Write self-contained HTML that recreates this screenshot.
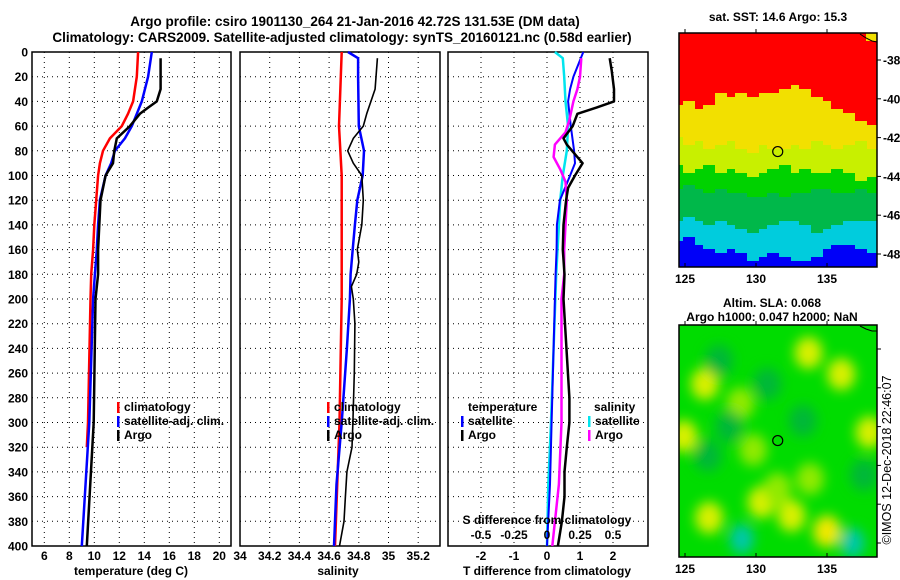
<!DOCTYPE html>
<html><head><meta charset="utf-8"><style>
body{margin:0;background:#fff}
svg{display:block;font-family:"Liberation Sans",sans-serif;font-weight:bold}
</style></head><body>
<svg id="c" width="900" height="580" viewBox="0 0 900 580">
<defs><filter id="bl" x="-50%" y="-50%" width="200%" height="200%"><feGaussianBlur stdDeviation="6"/></filter>
<clipPath id="m2c"><rect x="679" y="325" width="198" height="232"/></clipPath></defs>
<text x="355" y="26" font-size="13.5" text-anchor="middle">Argo profile: csiro 1901130_264 21-Jan-2016 42.72S 131.53E (DM data)</text>
<text x="342" y="42" font-size="13.5" text-anchor="middle">Climatology: CARS2009. Satellite-adjusted climatology: synTS_20160121.nc (0.58d earlier)</text>
<g id="g"></g>
</svg>
<script>
// ---- data ----
const depthTicks=[0,20,40,60,80,100,120,140,160,180,200,220,240,260,280,300,320,340,360,380,400];
const tTicks=[6,8,10,12,14,16,18,20,22];
const tTickLabels=['6','8','10','12','14','16','18','20',''];
const sTicks=[34,34.2,34.4,34.6,34.8,35,35.2];
const dTicks=[-2,-1,0,1,2];
const dsTicks=[-0.5,-0.25,0,0.25,0.5];
const dsTickLabels=['-0.5','-0.25','0','0.25','0.5'];
const climT_depth=[0,20,40,50,60,70,80,90,100,120,140,160,180,200,300,320];
const climT=[13.5,13.4,13.1,12.7,12.2,11.25,10.7,10.45,10.3,10.15,10,9.9,9.75,9.7,9.5,9.4];
const satT_depth=[0,20,40,50,60,70,80,90,100,120,140,160,180,200,300,400];
const satT=[14.6,14.3,13.8,13.4,13.0,12.45,11.65,11.35,10.9,10.45,10.3,10.2,10.05,9.9,9.6,9.0];
const argoT_depth=[5,30,40,45,50,60,70,80,90,100,120,140,160,180,200,300,400];
const argoT=[15.3,15.3,15.0,14.3,13.65,12.85,11.8,11.6,11.5,10.9,10.5,10.4,10.3,10.3,10.1,9.95,9.4];
const climS_depth=[0,60,100,200,300,400];
const climS=[34.685,34.667,34.685,34.685,34.67,34.64];
const satS_depth=[0,5,20,60,80,100,120,140,160,180,200,240,300,350,400];
const satS=[34.727,34.795,34.795,34.80,34.835,34.826,34.79,34.774,34.759,34.745,34.74,34.72,34.685,34.65,34.633];
const argoS_depth=[5,30,50,60,70,80,90,100,120,140,160,170,180,190,200,220,260,300,320,340,360,380,400];
const argoS=[34.925,34.91,34.853,34.83,34.763,34.725,34.763,34.82,34.83,34.82,34.79,34.80,34.786,34.75,34.763,34.774,34.77,34.76,34.754,34.72,34.71,34.70,34.67];
const dSsat_depth=[0,5,20,40,60,80,100,120,140,180,300,350,400];
const dSsat=[0.06,0.12,0.13,0.14,0.16,0.15,0.12,0.10,0.09,0.07,0.03,0.01,0.0];
const dSargo_depth=[5,20,30,40,55,65,75,85,95,105,120,140,160,180,200,300,350,400];
const dSargo=[0.26,0.25,0.23,0.2,0.17,0.14,0.06,0.05,0.1,0.14,0.15,0.14,0.13,0.13,0.11,0.11,0.09,0.04];
const dTsat_depth=[0,10,20,30,40,60,80,90,100,120,140,160,180,200,300,350,400];
const dTsat=[1.1,0.95,0.8,0.7,0.64,0.72,0.82,0.85,0.7,0.39,0.3,0.29,0.26,0.24,0.14,0.09,0.0];
const dTargo_depth=[5,15,30,40,45,50,60,70,75,90,100,110,120,140,160,180,200,280,300,320,340,360,380,400];
const dTargo=[1.9,1.96,2.03,2.03,1.5,0.92,0.78,0.5,0.6,1.08,0.85,0.64,0.58,0.5,0.48,0.53,0.5,0.68,0.68,0.6,0.53,0.53,0.45,0.33];
// SST map band boundaries (latitude) sampled at longitudes
const sstLons=[124.5,125.3,126,126.8,127.5,128.3,129,129.8,130.5,131.3,132,132.8,133.5,134.3,135,135.8,136.5,137.3,138.5];
const redYellow=[-40.3,-40.1,-40.6,-40.4,-39.8,-40.0,-39.6,-39.9,-39.6,-39.8,-39.5,-39.3,-39.5,-39.9,-40.2,-40.6,-40.8,-41.1,-41.4];
const yellowLime=[-42.0,-42.3,-42.2,-42.5,-42.4,-42.2,-42.5,-42.7,-42.4,-42.6,-42.5,-42.3,-42.5,-42.2,-42.4,-42.6,-42.3,-42.1,-42.6];
const limeGreen=[-43.5,-43.8,-43.7,-43.5,-43.9,-43.7,-43.9,-44.1,-43.8,-43.6,-43.5,-43.8,-43.7,-43.9,-43.9,-43.6,-43.9,-44.2,-44.1];
const greenTeal=[-44.7,-44.5,-44.6,-44.8,-44.6,-44.9,-44.8,-45.1,-45.0,-44.8,-45.0,-44.9,-44.8,-44.6,-44.7,-44.9,-44.8,-44.6,-44.9];
const tealCyan=[-46.2,-46.0,-46.3,-46.5,-46.4,-46.6,-46.7,-46.9,-46.8,-46.5,-46.3,-46.4,-46.6,-46.9,-46.8,-46.5,-46.4,-46.2,-46.2];
const cyanBlue=[-47.3,-47.1,-47.5,-47.7,-48.0,-47.8,-47.9,-48.3,-48.2,-48.0,-48.2,-48.4,-48.4,-48.1,-47.8,-47.5,-47.6,-47.7,-48.0];
const sstColors=['#ff0000','#f2e000','#c8f000','#00d200','#00b84a','#00c8b0','#00ccdd','#0000f8'];
// SLA anomaly blobs: lon, lat, type
const slaLon=[126.4,133.7,136.0,135.0,130.4,126.7,138.0,124.9,128.9,126.6,130.8,133.3,137.6,128.1,127.4,129.0,136.8,131.5,133.8,132.5,129.8];
const slaLat=[-39.8,-38.2,-39.3,-47.4,-45.9,-46.7,-42.3,-42.5,-40.8,-43.5,-39.8,-41.7,-44.5,-42.0,-38.6,-47.8,-48.0,-45.2,-44.7,-46.6,-43.2];
const slaType=[1,1,1,2,1,1,1,1,0,3,3,3,3,3,3,4,4,0,0,1,0];
const slaColors=['#90ea00','#d8f000','#f0e800','#00b838','#00c8a8'];

const NS='http://www.w3.org/2000/svg';
const G=document.getElementById('g');
function el(tag,at,txt,parent){const e=document.createElementNS(NS,tag);for(const k in at)e.setAttribute(k,at[k]);if(txt!==undefined)e.textContent=txt;(parent||G).appendChild(e);return e;}
const yD=d=>52+d*1.235;
function panel(x0,x1,xs,grid,name){
  const grp=el('g',{});
  
  
  depthTicks.forEach(d=>{if(d>0&&d<400){const l=el('line',{x1:x0,x2:x1,y1:yD(d),y2:yD(d),stroke:'#000','stroke-width':1,'stroke-dasharray':'1 4'},undefined,grp);}});
  grid.forEach(v=>{const X=xs(v);if(X>x0+2&&X<x1-2){const l=el('line',{x1:X,x2:X,y1:52,y2:546,stroke:'#000','stroke-width':1,'stroke-dasharray':'1 4'},undefined,grp);}});
  const r=el('rect',{x:x0,y:52,width:x1-x0,height:494,fill:'none',stroke:'#000','stroke-width':1.5},undefined,grp);
  
  return grp;
}
function line(arrD,arrV,xs,col,w,name,grp){
  const p=arrV.map((v,i)=>xs(v).toFixed(1)+','+yD(arrD[i]).toFixed(1)).join(' ');
  const l=el('polyline',{points:p,fill:'none',stroke:col,'stroke-width':w,'stroke-linejoin':'round'},undefined,grp);
  
  
}
function txt(x,y,s,size,anchor,name,extra){const t=el('text',Object.assign({x:x,y:y,'font-size':size,'text-anchor':anchor||'start'},extra||{}),s);return t;}
// y tick labels
depthTicks.forEach(d=>{txt(28,yD(d)+4.5,String(d),12,'end','y-tick-label');});
// panel 1
const xT=v=>44.3+(v-6)*12.5;
const p1=panel(32,231,xT,tTicks,'temperature-panel');
line(climT_depth,climT,xT,'#ff0000',2.5,'climatology-temp-line',p1);
line(satT_depth,satT,xT,'#0000ff',2.5,'satellite-temp-line',p1);
line(argoT_depth,argoT,xT,'#000',2.5,'argo-temp-line',p1);
tTicks.forEach((v,i)=>{if(tTickLabels[i])txt(xT(v),560,tTickLabels[i],12,'middle','x-tick-label');});
txt(131,575,'temperature (deg C)',12,'middle','x-axis-title');
// panel 2
const xS=v=>240+(v-34)*148.5;
const p2=panel(240,440,xS,sTicks,'salinity-panel');
line(climS_depth,climS,xS,'#ff0000',2.5,'climatology-sal-line',p2);
line(satS_depth,satS,xS,'#0000ff',2.5,'satellite-sal-line',p2);
line(argoS_depth,argoS,xS,'#000',1.6,'argo-sal-line',p2);
sTicks.forEach(v=>txt(xS(v),560,String(v),12,'middle','x-tick-label'));
txt(338,575,'salinity',12,'middle','x-axis-title');
// panel 3
const xDT=v=>547+v*33;
const xDS=v=>547+v*132;
const p3=panel(448,648,xDT,dTicks,'difference-panel');
line(dSsat_depth,dSsat,xDS,'#00e5ee',2.5,'satellite-sal-diff-line',p3);
line(dTsat_depth,dTsat,xDT,'#0000ff',2,'satellite-temp-diff-line',p3);
line(dSargo_depth,dSargo,xDS,'#ff00ff',2.5,'argo-sal-diff-line',p3);
line(dTargo_depth,dTargo,xDT,'#000',2.5,'argo-temp-diff-line',p3);
dTicks.forEach(v=>txt(xDT(v),560,String(v),12,'middle','x-tick-label'));
txt(547,575,'T difference from climatology',12,'middle','x-axis-title');
dsTicks.forEach((v,i)=>txt(xDS(v),539,dsTickLabels[i],12,'middle','s-tick-label'));
txt(547,524,'S difference from climatology',12,'middle','s-axis-title');
// legends
function leg(x,y,col,label){const r=el('rect',{x:x,y:y-9,width:2.5,height:11,fill:col});txt(x+7,y,label,12,'start','legend-entry');}
[[117,'#ff0000','climatology'],[117,'#0000ff','satellite-adj. clim.'],[117,'#000','Argo']].forEach((a,i)=>leg(a[0],411+i*14,a[1],a[2]));
[[327,'#ff0000','climatology'],[327,'#0000ff','satellite-adj. clim.'],[327,'#000','Argo']].forEach((a,i)=>leg(a[0],411+i*14,a[1],a[2]));
txt(468,411,'temperature',12,'start','legend-heading');
leg(461,425,'#0000ff','satellite');leg(461,439,'#000','Argo');
txt(594,411,'salinity',12,'start','legend-heading');
leg(588,425,'#00e5ee','satellite');leg(588,439,'#ff00ff','Argo');
// ---- maps ----
const mx0=679,mx1=877;
const lonX=lon=>685+(lon-125)*14.2;
function mapAxes(y0,y1,lat38,name,labels){
  const lY=lat=>lat38+(-38-lat)*19.4;
  [125,130,135].forEach(l=>{el('line',{x1:lonX(l),x2:lonX(l),y1:y1,y2:y1-4,stroke:'#000'});el('line',{x1:lonX(l),x2:lonX(l),y1:y0,y2:y0-4,stroke:'#000'});txt(lonX(l),y1+16,String(l),12,'middle','map-lon-label');});
  [-38,-40,-42,-44,-46,-48].forEach(l=>{el('line',{x1:mx1,x2:mx1+4,y1:lY(l),y2:lY(l),stroke:'#000'});if(labels)txt(mx1+6,lY(l)+4.5,String(l),12,'start','map-lat-label');});
  const r=el('rect',{x:mx0,y:y0,width:mx1-mx0,height:y1-y0,fill:'none',stroke:'#000','stroke-width':1.5});
  
  return lY;
}
// SST map
const s0=33,s1=267;
const sY=lat=>60+(-38-lat)*19.4;
const sLat=y=>-38-(y-60)/19.4;
const cell=4;
const sstG=el('g',{});


for(let x=mx0;x<mx1;x+=cell){
  const lon=125+(x+cell/2-685)/14.2;
  let ci=0,b=1e9;sstLons.forEach((l,i)=>{if(Math.abs(l-lon)<b){b=Math.abs(l-lon);ci=i;}});
  const bounds=[redYellow[ci],yellowLime[ci],limeGreen[ci],greenTeal[ci],tealCyan[ci],cyanBlue[ci]];
  for(let y=s0;y<s1;y+=cell){
    const lat=sLat(y+cell/2);
    let k=0;while(k<bounds.length&&lat<bounds[k])k++;
    const col=[0,1,2,3,4,6,7][k];
    const r=el('rect',{x:x,y:y,width:Math.min(cell,mx1-x),height:Math.min(cell,s1-y),fill:sstColors[col]},undefined,sstG);
    
    
  }
}
el('rect',{x:866,y:33,width:11,height:8,fill:'#f2e000'});
el('polyline',{points:'860,34 866,38 872,41 877,42',fill:'none',stroke:'#000','stroke-width':1});
mapAxes(s0,s1,60,'sst-map',true);
const c1=el('circle',{cx:lonX(131.53),cy:sY(-42.72),r:5,fill:'none',stroke:'#000','stroke-width':1.2});

txt(778,21,'sat. SST: 14.6 Argo: 15.3',12,'middle','sst-map-title');
// SLA map
const a0=325,a1=557;
const aY=lat=>349+(-38-lat)*19.4;
const slaG=el('g',{'clip-path':'url(#m2c)'});


el('rect',{x:mx0,y:a0,width:mx1-mx0,height:a1-a0,fill:'#00dc00'},undefined,slaG);
const bg=el('g',{filter:'url(#bl)'},undefined,slaG);
slaLon.forEach((lon,i)=>{const c=el('ellipse',{cx:lonX(lon),cy:aY(slaLat[i]),rx:slaType[i]===4?12:14,ry:slaType[i]===4?15:16,fill:slaColors[slaType[i]]},undefined,bg);});
el('polyline',{points:'860,326 866,329 872,331 877,331',fill:'none',stroke:'#000','stroke-width':1});
mapAxes(a0,a1,349,'sla-map',false);
const c2=el('circle',{cx:lonX(131.53),cy:aY(-42.72),r:5,fill:'none',stroke:'#000','stroke-width':1.2});

txt(772,307,'Altim. SLA: 0.068',12,'middle','sla-map-title');
txt(772,321,'Argo h1000: 0.047 h2000: NaN',12,'middle','sla-map-subtitle');
txt(0,0,'©IMOS 12-Dec-2018 22:46:07',12.5,'middle','timestamp-credit',{transform:'translate(891,460) rotate(-90)','font-weight':'normal'});
</script>
</body></html>
